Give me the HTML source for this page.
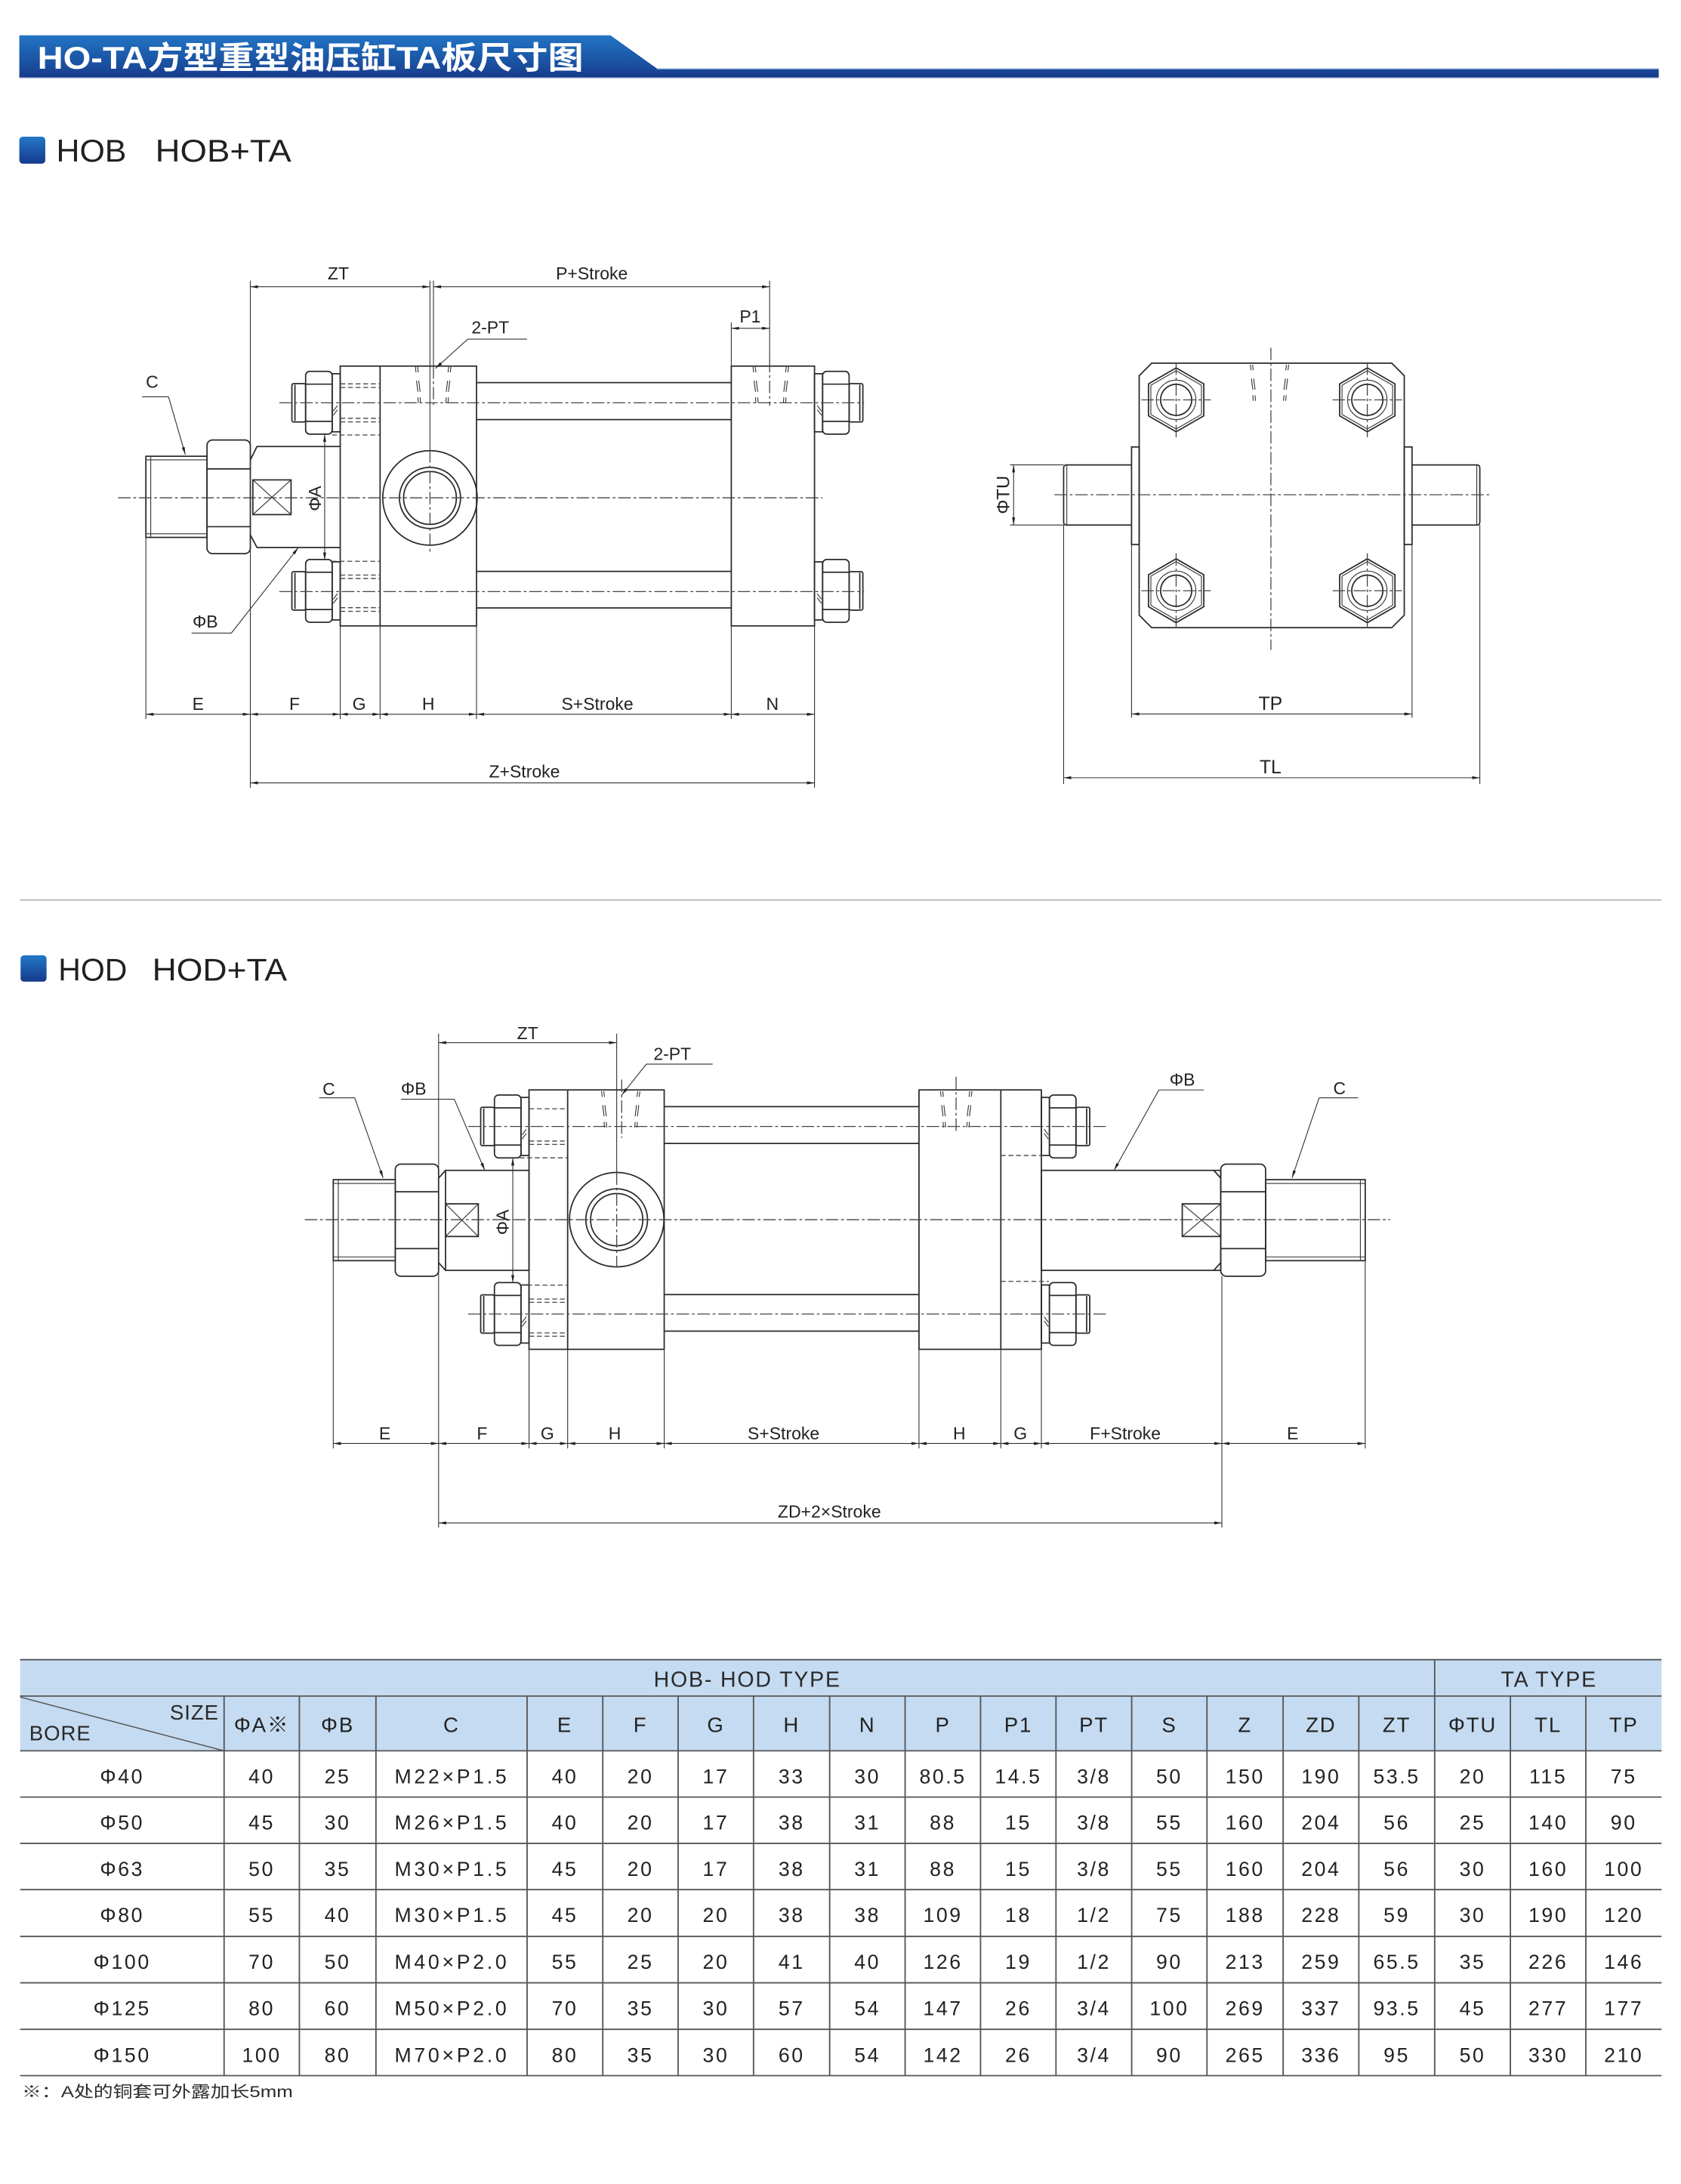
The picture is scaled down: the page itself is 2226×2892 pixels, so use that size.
<!DOCTYPE html>
<html><head><meta charset="utf-8">
<style>
html,body{margin:0;padding:0;background:#fff}
svg{display:block}
text{font-family:"Liberation Sans","Noto Sans CJK SC",sans-serif;fill:#222}
.o{fill:none;stroke:#2a2a2a;stroke-width:0.95}
.t{fill:none;stroke:#333;stroke-width:0.6}
.c{fill:none;stroke:#444;stroke-width:0.7;stroke-dasharray:9 2 2 2}
.h{fill:none;stroke:#444;stroke-width:0.7;stroke-dasharray:3.5 2}
.dm{fill:none;stroke:#333;stroke-width:0.6}
.d{font-size:12.5px;text-anchor:middle}
.tb{font-size:14.5px;text-anchor:middle;letter-spacing:1.4px;fill:#2a2a2a}
.th{font-size:15px;text-anchor:middle;letter-spacing:1px;fill:#2a2a2a}
.gl{fill:none;stroke:#555;stroke-width:1}
</style></head><body>
<svg width="2226" height="2892" viewBox="0 0 1210 1572" xmlns="http://www.w3.org/2000/svg">
<defs>
<marker id="ar" viewBox="0 0 10 4" refX="10" refY="2" markerWidth="5.5" markerHeight="2.2" markerUnits="userSpaceOnUse" orient="auto-start-reverse"><path d="M0,0L10,2L0,4z" fill="#222"/></marker>
<linearGradient id="tg" x1="0" y1="0" x2="0" y2="1"><stop offset="0" stop-color="#2274c4"/><stop offset="0.75" stop-color="#1a4c9c"/><stop offset="1" stop-color="#17398a"/></linearGradient>
<linearGradient id="mg" x1="0" y1="0" x2="0" y2="1"><stop offset="0" stop-color="#2477c8"/><stop offset="1" stop-color="#153a8c"/></linearGradient>
<g id="nut" class="o">
 <rect x="-34.8" y="-13.8" width="9.9" height="27.6" rx="1.2"/>
 <line x1="-32.6" y1="-13" x2="-32.6" y2="13"/>
 <rect x="-24.9" y="-22.6" width="19.1" height="45.2" rx="3"/>
 <line x1="-24.9" y1="-13.4" x2="-5.8" y2="-13.4"/>
 <line x1="-24.9" y1="13.4" x2="-5.8" y2="13.4"/>
 <rect x="-5.8" y="-20.9" width="5.8" height="41.8"/>
 <path class="t" d="M-5,6L-2,2M-5,9L-2,5"/>
</g>
<g id="hexf">
 <polygon class="o" points="0,-23 19.9,-11.5 19.9,11.5 0,23 -19.9,11.5 -19.9,-11.5"/>
 <polygon class="t" points="0,-21 18.2,-10.5 18.2,10.5 0,21 -18.2,10.5 -18.2,-10.5"/>
 <circle class="t" r="14.2"/>
 <circle class="o" r="11.2"/>
 <path class="c" d="M-25,0H25M0,-27V27"/>
</g>
<path id="pmL" class="t" d="M0,0L0.5,4M1.6,0L2.1,4M0.8,10L1.8,18M2.4,10L3.4,18M1.8,22L2.1,26M3.4,22L3.7,26"/>
<path id="pmR" class="t" d="M0,0L-0.5,4M1.6,0L1.1,4M-0.8,10L-1.8,18M0.8,10L-0.2,18M-1.8,22L-2.1,26M-0.2,22L-0.5,26"/>
</defs>

<!-- Title bar -->
<path d="M13.9,25.4H439.4L472.9,49.3H1194V55.8H13.9Z" fill="url(#tg)"/>
<line x1="472.9" y1="49.6" x2="1194" y2="49.6" stroke="#8eb0e0" stroke-width="0.7"/>
<line x1="13.9" y1="56.1" x2="1194" y2="56.1" stroke="#a4b7da" stroke-width="0.6"/>
<text x="27" y="49.5" font-size="22.5" font-weight="bold" style="fill:#fff" textLength="393" lengthAdjust="spacingAndGlyphs">HO-TA方型重型油压缸TA板尺寸图</text>

<!-- HOB heading -->
<rect x="13.9" y="98.4" width="18.7" height="19.4" rx="2.5" fill="url(#mg)"/>
<text x="40.5" y="116.2" font-size="22.5" style="fill:#231f20" textLength="50.5" lengthAdjust="spacingAndGlyphs">HOB</text>
<text x="111.8" y="116.2" font-size="22.5" style="fill:#231f20" textLength="97.9" lengthAdjust="spacingAndGlyphs">HOB+TA</text>

<!-- ===== HOB drawing ===== -->
<g class="o">
<rect x="105" y="328.4" width="44" height="58.4"/>
<rect x="149" y="316.7" width="31.2" height="81.8" rx="4"/>
<path d="M149,337.5H180.2M149,379.1H180.2"/>
<path d="M180.2,331L185,321.4H244.9M180.2,385L185,394.1H244.9"/>
<rect x="182" y="345.4" width="27.5" height="25"/>
<rect x="244.9" y="263.5" width="98.1" height="187"/>
<path d="M273.6,263.5V450.5"/>
<path d="M343,275.4H526.4M343,302H526.4M343,411.3H526.4M343,437.6H526.4"/>
<rect x="526.4" y="263.5" width="59.9" height="187"/>
<circle cx="309.5" cy="358.4" r="34"/>
<circle cx="309.5" cy="358.4" r="22"/>
<circle cx="309.5" cy="358.4" r="19"/>
</g>
<g class="t"><path d="M108.5,328.4V386.8M105,331H149M105,384.2H149M182,345.4L209.5,370.4M209.5,345.4L182,370.4"/></g>
<use href="#nut" transform="translate(244.9,289.9)"/>
<use href="#nut" transform="translate(244.9,425.3)"/>
<use href="#nut" transform="translate(586.3,289.9) scale(-1,1)"/>
<use href="#nut" transform="translate(586.3,425.3) scale(-1,1)"/>
<g class="h"><path d="M245,276.3H273.6M245,278.9H273.6M245,301.1H273.6M245,303.7H273.6M239,313.1H273.6M239,404H273.6M245,413.9H273.6M245,416.4H273.6M245,437.4H273.6M245,440H273.6"/></g>
<use href="#pmL" x="299" y="264"/><use href="#pmR" x="323" y="264"/>
<use href="#pmL" x="542" y="264"/><use href="#pmR" x="566" y="264"/>
<g class="c"><path d="M85,358.3H592M201,289.9H622M201,425.8H622M309.5,324V398M312,263.5V292M554,259V292"/></g>
<g class="dm">
<path d="M180.2,202V567M309.5,202V324M312,202V263.5M554,202V259M526.4,232V263.5M105,386.8V517.5M244.9,450.5V517.5M273.6,450.5V517.5M343,450.5V517.5M526.4,450.5V517.5M586.3,450.5V567"/>
<line x1="180.2" y1="206.4" x2="309.5" y2="206.4" marker-start="url(#ar)" marker-end="url(#ar)"/>
<line x1="312" y1="206.4" x2="554" y2="206.4" marker-start="url(#ar)" marker-end="url(#ar)"/>
<line x1="526.4" y1="236.3" x2="554" y2="236.3" marker-start="url(#ar)" marker-end="url(#ar)"/>
<line x1="233.7" y1="312.6" x2="233.7" y2="403.2" marker-start="url(#ar)" marker-end="url(#ar)"/>
<line x1="105" y1="514.1" x2="180.2" y2="514.1" marker-start="url(#ar)" marker-end="url(#ar)"/>
<line x1="180.2" y1="514.1" x2="244.9" y2="514.1" marker-start="url(#ar)" marker-end="url(#ar)"/>
<line x1="244.9" y1="514.1" x2="273.6" y2="514.1" marker-start="url(#ar)" marker-end="url(#ar)"/>
<line x1="273.6" y1="514.1" x2="343" y2="514.1" marker-start="url(#ar)" marker-end="url(#ar)"/>
<line x1="343" y1="514.1" x2="526.4" y2="514.1" marker-start="url(#ar)" marker-end="url(#ar)"/>
<line x1="526.4" y1="514.1" x2="586.3" y2="514.1" marker-start="url(#ar)" marker-end="url(#ar)"/>
<line x1="180.2" y1="563.5" x2="586.3" y2="563.5" marker-start="url(#ar)" marker-end="url(#ar)"/>
<path d="M102.3,285.6H121.3M137.9,455.7H166.5M336.7,244.1H379.3"/>
<line x1="121.3" y1="285.6" x2="133.4" y2="327.2" marker-end="url(#ar)"/>
<line x1="166.5" y1="455.7" x2="214.8" y2="394.1" marker-end="url(#ar)"/>
<line x1="336.7" y1="244.1" x2="313.4" y2="265.2" marker-end="url(#ar)"/>
</g>
<text class="d" x="243.5" y="201">ZT</text>
<text class="d" x="426" y="201">P+Stroke</text>
<text class="d" x="540" y="232">P1</text>
<text x="339.4" y="240.1" font-size="12.5">2-PT</text>
<text x="105" y="279.1" font-size="12.5">C</text>
<text x="138.6" y="451.6" font-size="12.5">ΦB</text>
<text class="d" transform="translate(231,358.8) rotate(-90)">ΦA</text>
<text class="d" x="142.6" y="511">E</text>
<text class="d" x="212" y="511">F</text>
<text class="d" x="258.5" y="511">G</text>
<text class="d" x="308.3" y="511">H</text>
<text class="d" x="430" y="511">S+Stroke</text>
<text class="d" x="556" y="511">N</text>
<text class="d" x="377.5" y="559.6">Z+Stroke</text>

<!-- ===== Side view ===== -->
<g class="o">
<path d="M829,261.4H1001.8L1010.8,270.4V442.8L1001.8,451.8H829L820,442.8V270.4Z"/>
<rect x="814.5" y="321.7" width="5.5" height="70.2"/>
<rect x="1010.8" y="321.7" width="5.6" height="70.2"/>
<path d="M814.5,334.6H767.5Q765.6,334.6 765.6,337V375.5Q765.6,377.9 767.5,377.9H814.5"/>
<path d="M1016.4,334.6H1063.3Q1065.2,334.6 1065.2,337V375.5Q1065.2,377.9 1063.3,377.9H1016.4"/>
</g>
<g class="t"><path d="M767.9,334.6V377.9M1063,334.6V377.9"/></g>
<use href="#hexf" transform="translate(846.6,287.8)"/>
<use href="#hexf" transform="translate(984.2,287.8)"/>
<use href="#hexf" transform="translate(846.6,425.2)"/>
<use href="#hexf" transform="translate(984.2,425.2)"/>
<use href="#pmL" x="900" y="262.5"/><use href="#pmR" x="926" y="262.5"/>
<g class="c"><path d="M759,356.1H1073M914.8,250.3V467.8"/></g>
<g class="dm">
<path d="M727,334.6H765.6M727,377.9H765.6M814.5,391.9V516.6M1016.4,391.9V516.6M765.6,377.9V564.3M1065.2,377.9V564.3"/>
<line x1="729.6" y1="334.6" x2="729.6" y2="377.9" marker-start="url(#ar)" marker-end="url(#ar)"/>
<line x1="814.5" y1="513.9" x2="1016.4" y2="513.9" marker-start="url(#ar)" marker-end="url(#ar)"/>
<line x1="765.6" y1="559.8" x2="1065.2" y2="559.8" marker-start="url(#ar)" marker-end="url(#ar)"/>
</g>
<text class="d" font-size="13" transform="translate(726.5,356.2) rotate(-90)" style="font-size:13px">ΦTU</text>
<text class="d" x="914.5" y="511" style="font-size:13.5px">TP</text>
<text class="d" x="914.5" y="556.5" style="font-size:13.5px">TL</text>

<!-- separator -->
<line x1="14.5" y1="647.8" x2="1196" y2="647.8" stroke="#bdbdbd" stroke-width="1.1"/>

<!-- HOD heading -->
<rect x="14.8" y="687.6" width="18.7" height="19" rx="2.5" fill="url(#mg)"/>
<text x="42" y="705.7" font-size="22.5" style="fill:#231f20" textLength="49.5" lengthAdjust="spacingAndGlyphs">HOD</text>
<text x="109.6" y="705.7" font-size="22.5" style="fill:#231f20" textLength="97" lengthAdjust="spacingAndGlyphs">HOD+TA</text>

<!-- ===== HOD drawing ===== -->
<g class="o">
<rect x="239.9" y="849.1" width="44.6" height="58.3"/>
<rect x="284.5" y="837.9" width="31.2" height="80.7" rx="4"/>
<path d="M284.5,857.8H315.7M284.5,898.7H315.7"/>
<rect x="320.7" y="842.4" width="60.1" height="72"/>
<path d="M315.7,848L320.7,842.4M315.7,908.8L320.7,914.4"/>
<rect x="320.7" y="866.5" width="23.6" height="23.5"/>
<rect x="380.8" y="784.5" width="97.3" height="186.7"/>
<path d="M408.6,784.5V971.2"/>
<path d="M478.1,796.5H661.5M478.1,823H661.5M478.1,931.8H661.5M478.1,958.1H661.5"/>
<rect x="661.5" y="784.5" width="88.1" height="186.7"/>
<path d="M720.4,784.5V971.2"/>
<rect x="749.6" y="842.4" width="129.1" height="72"/>
<path d="M878.7,848L873.7,842.4M878.7,908.8L873.7,914.4"/>
<rect x="851" y="866.5" width="27.7" height="23.5"/>
<rect x="878.7" y="837.9" width="32.3" height="80.7" rx="4"/>
<path d="M878.7,857.8H911M878.7,898.7H911"/>
<rect x="911" y="849.1" width="71.7" height="58.3"/>
<circle cx="443.9" cy="877.9" r="34"/>
<circle cx="443.9" cy="877.9" r="22.2"/>
<circle cx="443.9" cy="877.9" r="18.8"/>
</g>
<g class="t"><path d="M243.5,849.1V907.4M239.9,851.8H284.5M239.9,904.7H284.5M979.2,849.1V907.4M911,851.8H982.7M911,904.7H982.7M320.7,866.5L344.3,890M344.3,866.5L320.7,890M851,866.5L878.7,890M878.7,866.5L851,890"/></g>
<use href="#nut" transform="translate(380.8,810.8)"/>
<use href="#nut" transform="translate(380.8,945.8)"/>
<use href="#nut" transform="translate(749.6,810.8) scale(-1,1)"/>
<use href="#nut" transform="translate(749.6,945.8) scale(-1,1)"/>
<g class="h"><path d="M381,798.1H408.6M381,821.3H408.6M381,823.7H408.6M374,833.4H408.6M374,925H408.6M381,935H408.6M381,937.4H408.6M381,959.4H408.6M381,961.8H408.6M720.4,831.7H755M720.4,922.3H755"/></g>
<use href="#pmL" x="433" y="785.5"/><use href="#pmR" x="459" y="785.5"/>
<use href="#pmL" x="677" y="785.5"/><use href="#pmR" x="698" y="785.5"/>
<g class="c"><path d="M219.4,877.9H1000.7M337,810.8H797M337,945.8H797M443.9,843.9V912M447.5,777V819M688.2,775V815"/></g>
<g class="dm">
<path d="M443.9,744V843.9M239.9,907.4V1042.5M315.7,744V1099.5M380.8,971.2V1042.5M408.6,971.2V1042.5M478.1,971.2V1042.5M661.5,971.2V1042.5M720.4,971.2V1042.5M749.6,971.2V1042.5M879.5,918.6V1099.5M982.7,907.4V1042.5"/>
<line x1="315.7" y1="750.5" x2="443.9" y2="750.5" marker-start="url(#ar)" marker-end="url(#ar)"/>
<line x1="369.1" y1="833.4" x2="369.1" y2="923.2" marker-start="url(#ar)" marker-end="url(#ar)"/>
<line x1="239.9" y1="1039" x2="315.7" y2="1039" marker-start="url(#ar)" marker-end="url(#ar)"/>
<line x1="315.7" y1="1039" x2="380.8" y2="1039" marker-start="url(#ar)" marker-end="url(#ar)"/>
<line x1="380.8" y1="1039" x2="408.6" y2="1039" marker-start="url(#ar)" marker-end="url(#ar)"/>
<line x1="408.6" y1="1039" x2="478.1" y2="1039" marker-start="url(#ar)" marker-end="url(#ar)"/>
<line x1="478.1" y1="1039" x2="661.5" y2="1039" marker-start="url(#ar)" marker-end="url(#ar)"/>
<line x1="661.5" y1="1039" x2="720.4" y2="1039" marker-start="url(#ar)" marker-end="url(#ar)"/>
<line x1="720.4" y1="1039" x2="749.6" y2="1039" marker-start="url(#ar)" marker-end="url(#ar)"/>
<line x1="749.6" y1="1039" x2="879.5" y2="1039" marker-start="url(#ar)" marker-end="url(#ar)"/>
<line x1="879.5" y1="1039" x2="982.7" y2="1039" marker-start="url(#ar)" marker-end="url(#ar)"/>
<line x1="315.7" y1="1096.2" x2="879.5" y2="1096.2" marker-start="url(#ar)" marker-end="url(#ar)"/>
<path d="M229.7,790.2H255.3M288.6,791.2H327M834.2,784.5H866.5M949.5,790.2H977.6M465.3,765.9H513"/>
<line x1="255.3" y1="790.2" x2="275.8" y2="847.9" marker-end="url(#ar)"/>
<line x1="327" y1="791.2" x2="349" y2="842.4" marker-end="url(#ar)"/>
<line x1="834.2" y1="784.5" x2="801.9" y2="842.4" marker-end="url(#ar)"/>
<line x1="949.5" y1="790.2" x2="930" y2="847.9" marker-end="url(#ar)"/>
<line x1="465.3" y1="765.9" x2="447.5" y2="788.2" marker-end="url(#ar)"/>
</g>
<text class="d" x="379.8" y="748">ZT</text>
<text x="470.4" y="762.9" font-size="12.5">2-PT</text>
<text x="232.2" y="788.3" font-size="12.5">C</text>
<text x="288.6" y="788" font-size="12.5">ΦB</text>
<text x="841.9" y="781.5" font-size="12.5">ΦB</text>
<text x="959.7" y="787.5" font-size="12.5">C</text>
<text class="d" transform="translate(366,879.7) rotate(-90)">ΦA</text>
<text class="d" x="277" y="1036">E</text>
<text class="d" x="347" y="1036">F</text>
<text class="d" x="394" y="1036">G</text>
<text class="d" x="442.5" y="1036">H</text>
<text class="d" x="564" y="1036">S+Stroke</text>
<text class="d" x="690.5" y="1036">H</text>
<text class="d" x="734.5" y="1036">G</text>
<text class="d" x="810" y="1036">F+Stroke</text>
<text class="d" x="930.5" y="1036">E</text>
<text class="d" x="597" y="1092.4">ZD+2×Stroke</text>

<!-- ===== Table ===== -->
<rect x="14.5" y="1194.6" width="1181.5" height="65.6" fill="#c5dbf1"/>
<g class="gl">
<path d="M14.5,1194.6H1196M14.5,1220.8H1196M14.5,1260.2H1196M14.5,1293.5H1196M14.5,1326.8H1196M14.5,1360.1H1196M14.5,1393.8H1196M14.5,1427.2H1196M14.5,1460.7H1196M14.5,1494H1196"/>
<path d="M1032.7,1194.6V1494M161.3,1220.8V1494M215.5,1220.8V1494M270.6,1220.8V1494M379.4,1220.8V1494M433.9,1220.8V1494M488.1,1220.8V1494M542.4,1220.8V1494M597.2,1220.8V1494M651.5,1220.8V1494M705.8,1220.8V1494M760.1,1220.8V1494M814.6,1220.8V1494M868.8,1220.8V1494M923.6,1220.8V1494M978.1,1220.8V1494M1087.2,1220.8V1494M1141.5,1220.8V1494"/>
<path d="M14.5,1221.5L161.3,1260.2" style="stroke-width:0.8"/>
</g>
<text class="th" x="538" y="1214" style="font-size:15.5px">HOB- HOD TYPE</text>
<text class="th" x="1115" y="1214" style="font-size:15.5px">TA TYPE</text>
<text x="157.6" y="1237.6" font-size="15" text-anchor="end" style="fill:#2a2a2a;letter-spacing:0.5px">SIZE</text>
<text x="21.1" y="1252.6" font-size="15" style="fill:#2a2a2a;letter-spacing:0.5px">BORE</text>
<g class="th">
<text x="188.4" y="1246.6">ΦA※</text><text x="243" y="1246.6">ΦB</text><text x="325" y="1246.6">C</text>
<text x="406.6" y="1246.6">E</text><text x="461" y="1246.6">F</text><text x="515.3" y="1246.6">G</text>
<text x="569.8" y="1246.6">H</text><text x="624.4" y="1246.6">N</text><text x="678.7" y="1246.6">P</text>
<text x="733" y="1246.6">P1</text><text x="787.4" y="1246.6">PT</text><text x="841.7" y="1246.6">S</text>
<text x="896.2" y="1246.6">Z</text><text x="950.9" y="1246.6">ZD</text><text x="1005.4" y="1246.6">ZT</text>
<text x="1060" y="1246.6">ΦTU</text><text x="1114.4" y="1246.6">TL</text><text x="1168.8" y="1246.6">TP</text>
</g>
<g class="tb">
<!-- row 1 -->
<text x="87.9" y="1283.6">Φ40</text><text x="188.4" y="1283.6">40</text><text x="243" y="1283.6">25</text><text x="325" y="1283.6" textLength="82">M22×P1.5</text><text x="406.6" y="1283.6">40</text><text x="461" y="1283.6">20</text><text x="515.3" y="1283.6">17</text><text x="569.8" y="1283.6">33</text><text x="624.4" y="1283.6">30</text><text x="678.7" y="1283.6">80.5</text><text x="733" y="1283.6">14.5</text><text x="787.4" y="1283.6">3/8</text><text x="841.7" y="1283.6">50</text><text x="896.2" y="1283.6">150</text><text x="950.9" y="1283.6">190</text><text x="1005.4" y="1283.6">53.5</text><text x="1060" y="1283.6">20</text><text x="1114.4" y="1283.6">115</text><text x="1168.8" y="1283.6">75</text>
<!-- row 2 -->
<text x="87.9" y="1316.9">Φ50</text><text x="188.4" y="1316.9">45</text><text x="243" y="1316.9">30</text><text x="325" y="1316.9" textLength="82">M26×P1.5</text><text x="406.6" y="1316.9">40</text><text x="461" y="1316.9">20</text><text x="515.3" y="1316.9">17</text><text x="569.8" y="1316.9">38</text><text x="624.4" y="1316.9">31</text><text x="678.7" y="1316.9">88</text><text x="733" y="1316.9">15</text><text x="787.4" y="1316.9">3/8</text><text x="841.7" y="1316.9">55</text><text x="896.2" y="1316.9">160</text><text x="950.9" y="1316.9">204</text><text x="1005.4" y="1316.9">56</text><text x="1060" y="1316.9">25</text><text x="1114.4" y="1316.9">140</text><text x="1168.8" y="1316.9">90</text>
<!-- row 3 -->
<text x="87.9" y="1350.2">Φ63</text><text x="188.4" y="1350.2">50</text><text x="243" y="1350.2">35</text><text x="325" y="1350.2" textLength="82">M30×P1.5</text><text x="406.6" y="1350.2">45</text><text x="461" y="1350.2">20</text><text x="515.3" y="1350.2">17</text><text x="569.8" y="1350.2">38</text><text x="624.4" y="1350.2">31</text><text x="678.7" y="1350.2">88</text><text x="733" y="1350.2">15</text><text x="787.4" y="1350.2">3/8</text><text x="841.7" y="1350.2">55</text><text x="896.2" y="1350.2">160</text><text x="950.9" y="1350.2">204</text><text x="1005.4" y="1350.2">56</text><text x="1060" y="1350.2">30</text><text x="1114.4" y="1350.2">160</text><text x="1168.8" y="1350.2">100</text>
<!-- row 4 -->
<text x="87.9" y="1383.5">Φ80</text><text x="188.4" y="1383.5">55</text><text x="243" y="1383.5">40</text><text x="325" y="1383.5" textLength="82">M30×P1.5</text><text x="406.6" y="1383.5">45</text><text x="461" y="1383.5">20</text><text x="515.3" y="1383.5">20</text><text x="569.8" y="1383.5">38</text><text x="624.4" y="1383.5">38</text><text x="678.7" y="1383.5">109</text><text x="733" y="1383.5">18</text><text x="787.4" y="1383.5">1/2</text><text x="841.7" y="1383.5">75</text><text x="896.2" y="1383.5">188</text><text x="950.9" y="1383.5">228</text><text x="1005.4" y="1383.5">59</text><text x="1060" y="1383.5">30</text><text x="1114.4" y="1383.5">190</text><text x="1168.8" y="1383.5">120</text>
<!-- row 5 -->
<text x="87.9" y="1417.2">Φ100</text><text x="188.4" y="1417.2">70</text><text x="243" y="1417.2">50</text><text x="325" y="1417.2" textLength="82">M40×P2.0</text><text x="406.6" y="1417.2">55</text><text x="461" y="1417.2">25</text><text x="515.3" y="1417.2">20</text><text x="569.8" y="1417.2">41</text><text x="624.4" y="1417.2">40</text><text x="678.7" y="1417.2">126</text><text x="733" y="1417.2">19</text><text x="787.4" y="1417.2">1/2</text><text x="841.7" y="1417.2">90</text><text x="896.2" y="1417.2">213</text><text x="950.9" y="1417.2">259</text><text x="1005.4" y="1417.2">65.5</text><text x="1060" y="1417.2">35</text><text x="1114.4" y="1417.2">226</text><text x="1168.8" y="1417.2">146</text>
<!-- row 6 -->
<text x="87.9" y="1450.6">Φ125</text><text x="188.4" y="1450.6">80</text><text x="243" y="1450.6">60</text><text x="325" y="1450.6" textLength="82">M50×P2.0</text><text x="406.6" y="1450.6">70</text><text x="461" y="1450.6">35</text><text x="515.3" y="1450.6">30</text><text x="569.8" y="1450.6">57</text><text x="624.4" y="1450.6">54</text><text x="678.7" y="1450.6">147</text><text x="733" y="1450.6">26</text><text x="787.4" y="1450.6">3/4</text><text x="841.7" y="1450.6">100</text><text x="896.2" y="1450.6">269</text><text x="950.9" y="1450.6">337</text><text x="1005.4" y="1450.6">93.5</text><text x="1060" y="1450.6">45</text><text x="1114.4" y="1450.6">277</text><text x="1168.8" y="1450.6">177</text>
<!-- row 7 -->
<text x="87.9" y="1484.1">Φ150</text><text x="188.4" y="1484.1">100</text><text x="243" y="1484.1">80</text><text x="325" y="1484.1" textLength="82">M70×P2.0</text><text x="406.6" y="1484.1">80</text><text x="461" y="1484.1">35</text><text x="515.3" y="1484.1">30</text><text x="569.8" y="1484.1">60</text><text x="624.4" y="1484.1">54</text><text x="678.7" y="1484.1">142</text><text x="733" y="1484.1">26</text><text x="787.4" y="1484.1">3/4</text><text x="841.7" y="1484.1">90</text><text x="896.2" y="1484.1">265</text><text x="950.9" y="1484.1">336</text><text x="1005.4" y="1484.1">95</text><text x="1060" y="1484.1">50</text><text x="1114.4" y="1484.1">330</text><text x="1168.8" y="1484.1">210</text>
</g>
<text x="15.8" y="1509.5" font-size="11.5" style="fill:#2a2a2a" textLength="195" lengthAdjust="spacingAndGlyphs">※：A处的铜套可外露加长5mm</text>
</svg>
</body></html>
